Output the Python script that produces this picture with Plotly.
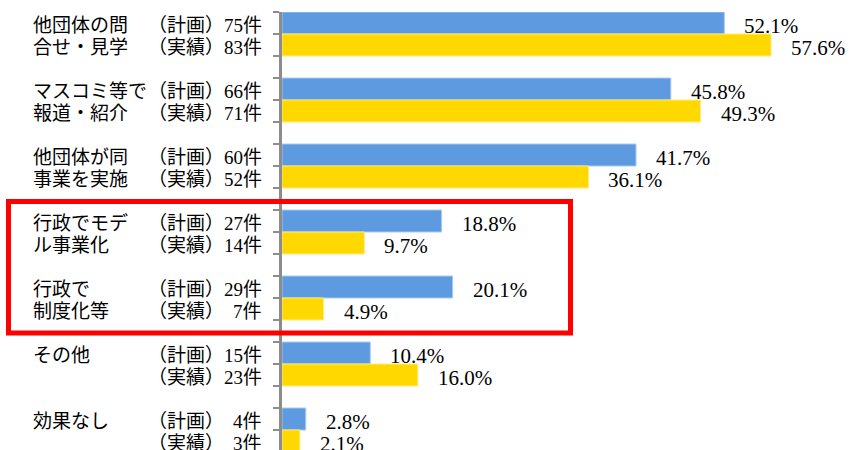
import plotly.graph_objects as go

# ---- data ----
cat_line1 = ["他団体の問", "マスコミ等で", "他団体が同", "行政でモデ", "行政で", "その他", "効果なし"]
cat_line2 = ["合せ・見学", "報道・紹介", "事業を実施", "ル事業化", "制度化等", "", ""]
plan_label = "（計画）"
actual_label = "（実績）"
plan_counts = [75, 66, 60, 27, 29, 15, 4]
actual_counts = [83, 71, 52, 14, 7, 23, 3]
plan_pct = [52.1, 45.8, 41.7, 18.8, 20.1, 10.4, 2.8]
actual_pct = [57.6, 49.3, 36.1, 9.7, 4.9, 16.0, 2.1]
highlight = [3, 4]  # categories inside the red box

# ---- geometry ----
W, H = 851, 450
L, T = 282, 12
PX_PER_PCT = 8.49
UNIT = 22  # px per bar slot
plot_w = W - L
plot_h = H - T

n = len(cat_line1)
plan_y = [3 * i + 0.5 for i in range(n)]
actual_y = [3 * i + 1.5 for i in range(n)]

BLUE = "#5D9AE0"
YELLOW = "#FFD800"
JP = "Noto Sans CJK JP"
SERIF = "'Liberation Serif', 'DejaVu Serif', serif"

fig = go.Figure()
fig.add_trace(go.Bar(x=plan_pct, y=plan_y, orientation="h", width=1,
                     marker=dict(color=BLUE, line=dict(color="#A9CBF2", width=1)),
                     hoverinfo="skip", showlegend=False))
fig.add_trace(go.Bar(x=actual_pct, y=actual_y, orientation="h", width=1,
                     marker=dict(color=YELLOW, line=dict(color="#FFEA80", width=1)),
                     hoverinfo="skip", showlegend=False))

def px_to_paper(px):
    return (px - L) / plot_w

ann = []
for i in range(n):
    for v, yy in ((plan_pct[i], plan_y[i]), (actual_pct[i], actual_y[i])):
        ann.append(dict(x=v, y=yy, xref="x", yref="y", text=f"{v:.1f}%",
                        showarrow=False, xanchor="left", yanchor="middle",
                        xshift=18, yshift=-3,
                        font=dict(family=SERIF, size=21, color="black")))
    # category names
    ann.append(dict(x=px_to_paper(31), y=plan_y[i], xref="paper", yref="y",
                    text=cat_line1[i], showarrow=False, xanchor="left", yanchor="middle",
                    font=dict(family=JP, size=19, color="black")))
    if cat_line2[i]:
        ann.append(dict(x=px_to_paper(31), y=actual_y[i], xref="paper", yref="y",
                        text=cat_line2[i], showarrow=False, xanchor="left", yanchor="middle",
                        font=dict(family=JP, size=19, color="black")))
    for lab, cnt, yy in ((plan_label, plan_counts[i], plan_y[i]),
                         (actual_label, actual_counts[i], actual_y[i])):
        ann.append(dict(x=px_to_paper(146), y=yy, xref="paper", yref="y",
                        text=lab, showarrow=False, xanchor="left", yanchor="middle",
                        font=dict(family=JP, size=19, color="black")))
        ann.append(dict(x=px_to_paper(264), y=yy, xref="paper", yref="y",
                        text=f'<span style="font-family:Liberation Serif;font-size:19px">{cnt}</span>件',
                        showarrow=False, xanchor="right", yanchor="middle",
                        font=dict(family=JP, size=19, color="black")))

shapes = [dict(type="rect", xref="paper", yref="y",
               x0=px_to_paper(8.5), x1=px_to_paper(570.5),
               y0=3 * highlight[0] - 0.39, y1=3 * highlight[-1] + 3 - 0.41,
               line=dict(color="#FF0000", width=5), fillcolor="rgba(0,0,0,0)",
               layer="above")]

fig.update_layout(
    width=W, height=H,
    margin=dict(l=L, r=0, t=T, b=0, pad=0),
    paper_bgcolor="white", plot_bgcolor="white",
    barmode="overlay",
    xaxis=dict(range=[0, plot_w / PX_PER_PCT], visible=False, fixedrange=True),
    yaxis=dict(range=[plot_h / UNIT, 0], showgrid=False, zeroline=False,
               showline=True, linecolor="#8C8C8C", linewidth=3,
               ticks="outside", ticklen=6, tickwidth=2, tickcolor="#8C8C8C",
               tickvals=list(range(0, 3 * n)), showticklabels=False, fixedrange=True),
    annotations=ann, shapes=shapes,
)

fig.write_html("out.html", config={"displayModeBar": False})
